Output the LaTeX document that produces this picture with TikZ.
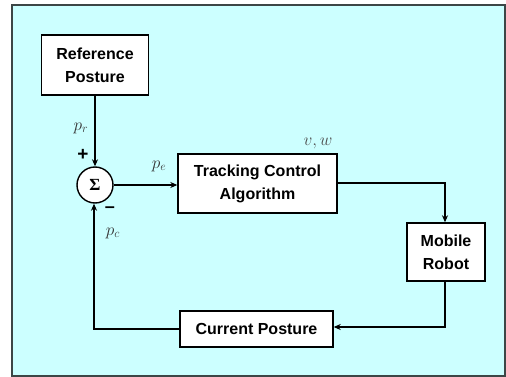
\documentclass[tikz,border=0pt]{standalone}
\usepackage{fontspec}
\setmainfont{Liberation Sans}
\newfontfamily\sigfont{Liberation Serif}
\usetikzlibrary{arrows.meta}
\definecolor{bgcyan}{RGB}{204,255,255}
\definecolor{framegray}{RGB}{60,70,70}
\begin{document}
\begin{tikzpicture}[x=1pt,y=-1pt,
  blk/.style={draw=black,fill=white,line width=1.4pt,inner sep=0pt,align=center,font=\fontsize{16}{23}\selectfont\bfseries},
  conn/.style={line width=1.2pt},
  arr/.style={conn,-{Stealth[length=7pt,width=6pt]}},
  lbl/.style={inner sep=0pt,font=\fontsize{17}{19}\selectfont}]
\useasboundingbox (0,0) rectangle (506,377);
\draw[fill=bgcyan,draw=framegray,line width=1.4pt] (12,5) rectangle (505,376);
\node[blk,minimum width=107pt,minimum height=60pt] (ref) at (95,65) {Reference\\Posture};
\node[draw=black,fill=white,line width=1.4pt,circle,minimum size=36pt,inner sep=0pt,font=\fontsize{17}{19}\selectfont\sigfont\bfseries] (sum) at (95,185) {Σ};
\node[blk,minimum width=159pt,minimum height=59pt] (tca) at (257.5,183.5) {Tracking Control\\Algorithm};
\node[blk,minimum width=78pt,minimum height=58pt] (mr) at (446,252) {Mobile\\Robot};
\node[blk,minimum width=153pt,minimum height=36pt] (cp) at (256.5,329) {Current Posture};
\coordinate (c1) at (445,183);
\coordinate (c2) at (445,327);
\coordinate (c3) at (94,329);
\draw[arr] (ref.south) -- (sum.north);
\draw[arr] (sum.east) -- (tca.west |- sum.east);
\draw[arr] (tca.east |- c1) -- (c1) -- (mr.north -| c1);
\draw[arr] (mr.south -| c2) -- (c2) -- (cp.east |- c2);
\draw[arr] (cp.west |- c3) -- (c3) -- (sum.south -| c3);
\node[lbl,text=black!80] (pr) at (81,128) {$p_r$};
\node[lbl,font=\fontsize{19}{20}\selectfont\bfseries] (plus) at (83,155) {+};
\node[lbl,text=black!80] (pe) at (159,166) {$p_e$};
\node[lbl,font=\fontsize{18}{20}\selectfont\bfseries] (minus) at (110,210) {--};
\node[lbl,text=black!80] (pc) at (113,233) {$p_c$};
\node[lbl,text=black!70] (vw) at (318,143) {$v,w$};
\end{tikzpicture}
\end{document}
